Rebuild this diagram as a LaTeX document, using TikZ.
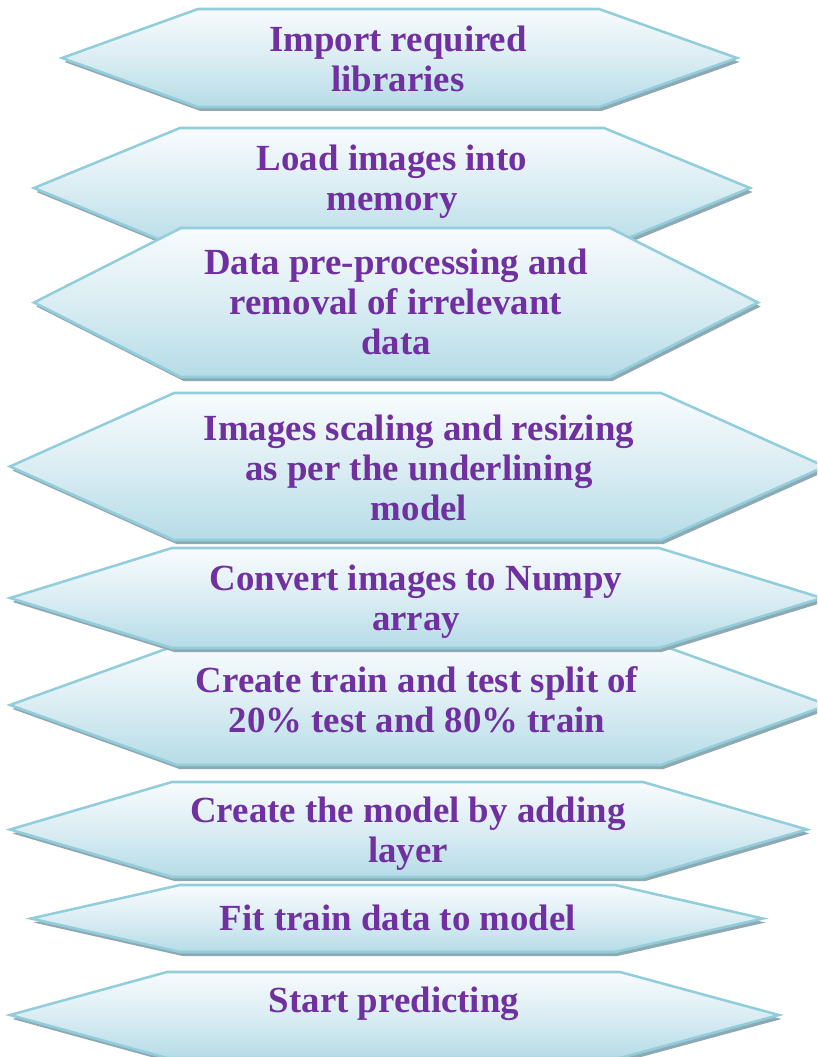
\documentclass[tikz,border=0pt]{standalone}
\usepackage{fontspec}
\setmainfont{Liberation Serif}
\usepackage{xcolor}
\usepackage{tikz}
\definecolor{steppurple}{HTML}{7030A0}
\definecolor{hexline}{HTML}{92CDDC}
\definecolor{hextop}{HTML}{F8FBFD}
\definecolor{hexbot}{HTML}{B6DCE7}
\definecolor{hexshade}{HTML}{8FA9B2}
\tikzstyle{hexbox} = [draw=hexline, line width=1.8pt, line join=miter, top color=hextop, bottom color=hexbot, middle color=hexbot!45!hextop]
\tikzstyle{hexshadow} = [fill=hexshade, xshift=2.5*0.025cm, yshift=-4*0.025cm]
\tikzstyle{steptext} = [align=center, text=steppurple, font=\fontsize{26.2}{28.5}\selectfont\bfseries, inner sep=0pt]
% name, top, bottom, left tip, left corner, right corner, right tip, text position, text
\newcommand{\flowhex}[9]{%
  \fill[hexshadow] (#4,{(#2+#3)/2}) -- (#5,#2) -- (#6,#2) -- (#7,{(#2+#3)/2}) -- (#6,#3) -- (#5,#3) -- cycle;
  \draw[hexbox] (#4,{(#2+#3)/2}) -- (#5,#2) -- (#6,#2) -- (#7,{(#2+#3)/2}) -- (#6,#3) -- (#5,#3) -- cycle;
  \node (#1) [steptext] at #8 {#9};
}

\begin{document}
\begin{tikzpicture}[x=0.025cm, y=-0.025cm]
    \useasboundingbox (0,0) rectangle (817,1057);
    \clip (0,0) rectangle (817,1057);

    \flowhex{import}{9}{107}{62}{198}{599}{737}{(398,59)}{Import required\\libraries}
    \flowhex{load}{128}{248}{34}{180}{604}{750}{(392,182)}{Load images into\\memory}
    \flowhex{prep}{228}{377}{34}{181}{610}{758}{(396,302)}{Data pre-processing and\\removal of irrelevant\\data}
    \flowhex{scale}{393}{540}{10}{174}{661}{825}{(419,468)}{Images scaling and resizing\\as per the underlining\\model}
    % the split box sits under the numpy box
    \flowhex{split}{645}{765}{10}{177}{661}{828}{(417,700)}{Create train and test split of\\20\% test and 80\% train}
    \flowhex{numpy}{548}{648}{10}{172}{659}{822}{(416,602)}{Convert images to Numpy\\array}
    \flowhex{model}{782}{877}{10}{172}{643}{807}{(408,834)}{Create the model by adding\\layer}
    \flowhex{fit}{885}{952}{31}{180}{615}{763}{(398,918)}{Fit train data to model}
    \flowhex{predict}{972}{1058}{10}{167}{620}{779}{(394,1004)}{Start predicting}

\end{tikzpicture}
\end{document}
